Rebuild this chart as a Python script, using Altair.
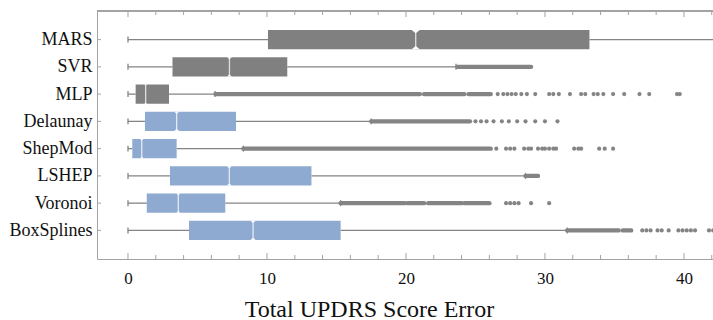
import altair as alt
import pandas as pd

# ---- data -------------------------------------------------------------
models = ["MARS", "SVR", "MLP", "Delaunay", "ShepMod", "LSHEP", "Voronoi", "BoxSplines"]
family = ["regression", "regression", "regression",
          "interpolant", "interpolant", "interpolant", "interpolant", "interpolant"]

whisker_low = [0.0, 0.0, 0.0, 0.0, 0.0, 0.0, 0.0, 0.0]
q1 = [10.07, 3.2, 0.55, 1.22, 0.31, 3.02, 1.35, 4.39]
median = [20.7, 7.3, 1.27, 3.5, 0.99, 7.29, 3.62, 9.0]
q3 = [33.2, 11.46, 2.95, 7.77, 3.5, 13.2, 7.0, 15.3]
whisker_high = [46.0, 23.6, 6.26, 17.5, 8.3, 28.6, 15.3, 31.6]
notch_half = [0.29, 0.18, 0.11, 0.18, 0.12, 0.18, 0.14, 0.19]

# outliers: dense stretches (start, end) and isolated points
outlier_runs = {
    "SVR": [(23.7, 29.0)],
    "MLP": [(6.3, 21.0), (21.3, 24.2), (24.5, 26.1)],
    "Delaunay": [(17.5, 24.6)],
    "ShepMod": [(8.3, 26.1)],
    "LSHEP": [(28.6, 29.5)],
    "Voronoi": [(15.3, 19.9), (20.1, 21.3), (21.6, 23.0), (23.1, 24.0), (24.2, 26.0)],
    "BoxSplines": [(31.6, 35.3), (35.6, 36.2)],
}
outlier_points = {
    "MLP": [26.6, 27.0, 27.3, 27.6, 27.9, 28.3, 28.7, 29.3, 30.3, 30.6, 31.0, 31.8,
            32.6, 32.9, 33.5, 33.8, 34.2, 34.9, 35.7, 36.8, 37.5, 39.5, 39.7],
    "Delaunay": [25.0, 25.4, 25.8, 26.3, 26.9, 27.4, 28.0, 28.6, 29.3, 30.0, 30.9],
    "ShepMod": [26.5, 27.2, 27.5, 27.8, 28.5, 28.8, 29.0, 29.5, 29.8, 30.0, 30.3,
                30.6, 30.8, 32.1, 32.4, 32.6, 33.9, 34.3, 34.9],
    "Voronoi": [27.2, 27.5, 27.8, 28.1, 29.0, 30.3],
    "BoxSplines": [37.0, 37.3, 37.6, 38.1, 38.4, 38.9, 39.6, 39.9, 40.2, 40.5,
                   40.8, 41.8, 42.1],
}

major_ticks = [0, 10, 20, 30, 40]
minor_ticks = [2, 4, 6, 8, 12, 14, 16, 18, 22, 24, 26, 28, 32, 34, 36, 38, 42]

# ---- style ------------------------------------------------------------
W, H = 616, 248
PAD_LEFT, PAD_TOP = 97, 11
X_DOMAIN = [-2.23, 42.09]
PX_PER_UNIT = W / (X_DOMAIN[1] - X_DOMAIN[0])
FONT = "Liberation Serif, DejaVu Serif, serif"
FRAME = "#a3a3a3"
LINE = "#848484"
GRAY = "#808080"
BLUE = "#8eaad0"
BOX_HALF = 0.35
CAP_HALF = 0.11

xs = alt.Scale(domain=X_DOMAIN, nice=False, zero=False)
ys = alt.Scale(domain=[-1.05, 8.05], nice=False, zero=False, reverse=True)

x_axis = alt.Axis(
    title="Total UPDRS Score Error", values=major_ticks, format="d",
    ticks=False, grid=False, domain=True, domainColor=FRAME, domainWidth=1,
    labelFont=FONT, labelFontSize=17, labelColor="#111", labelPadding=11,
    titleFont=FONT, titleFontSize=24, titleFontWeight="normal", titleColor="#111",
    titleBaseline="alphabetic", titleAlign="center", titleX=272, titleY=57,
)
name_expr = "[" + ",".join(f"'{m}'" for m in models) + "][datum.value]"
y_axis = alt.Axis(
    title=None, values=list(range(len(models))), labelExpr=name_expr,
    ticks=False, grid=False, domain=True, domainColor=FRAME, domainWidth=1,
    labelFont=FONT, labelFontSize=18, labelColor="#111", labelPadding=5,
)


def X(field):
    return alt.X(field, type="quantitative", scale=xs, axis=x_axis)


def Y(field):
    return alt.Y(field, type="quantitative", scale=ys, axis=y_axis)


# ---- tables built from the arrays ------------------------------------
box_rows, whisk_rows, cap_rows, notch_rows = [], [], [], []
for i, m in enumerate(models):
    box_rows.append(dict(model=m, family=family[i], x=q1[i], x2=q3[i],
                         y=i - BOX_HALF, y2=i + BOX_HALF, med=median[i]))
    whisk_rows.append(dict(model=m, y=i, x=whisker_low[i], x2=q1[i]))
    whisk_rows.append(dict(model=m, y=i, x=q3[i], x2=whisker_high[i]))
    for xv in (whisker_low[i], whisker_high[i]):
        cap_rows.append(dict(model=m, x=xv, y=i - CAP_HALF, y2=i + CAP_HALF))
    width_px = 2 * notch_half[i] * PX_PER_UNIT
    notch_rows.append(dict(model=m, x=median[i], y=i - BOX_HALF, edge="top",
                           s=width_px ** 2))
    notch_rows.append(dict(model=m, x=median[i], y=i + BOX_HALF, edge="bottom",
                           s=width_px ** 2))

run_rows, pt_rows = [], []
for i, m in enumerate(models):
    for a, b in outlier_runs.get(m, []):
        run_rows.append(dict(model=m, y=i, x=a, x2=b))
    for v in outlier_points.get(m, []):
        pt_rows.append(dict(model=m, y=i, x=v))

box_df = pd.DataFrame(box_rows)
whisk_df = pd.DataFrame(whisk_rows)
cap_df = pd.DataFrame(cap_rows)
notch_df = pd.DataFrame(notch_rows)
run_df = pd.DataFrame(run_rows)
pt_df = pd.DataFrame(pt_rows)
major_df = pd.DataFrame({"x": major_ticks})
minor_df = pd.DataFrame({"x": minor_ticks})
row_df = pd.DataFrame({"y": list(range(len(models)))})

# ---- layers -----------------------------------------------------------
whiskers = alt.Chart(whisk_df).mark_rule(color=LINE, strokeWidth=1.3, clip=True).encode(
    x=X("x"), x2="x2", y=Y("y"))
caps = alt.Chart(cap_df).mark_rule(color=LINE, strokeWidth=1.3, clip=True).encode(
    x=X("x"), y=Y("y"), y2="y2")
runs = alt.Chart(run_df).mark_rule(color=LINE, strokeWidth=4.4, strokeCap="round",
                                   clip=True).encode(x=X("x"), x2="x2", y=Y("y"))
points = alt.Chart(pt_df).mark_circle(color=LINE, size=17, opacity=1, clip=True).encode(
    x=X("x"), y=Y("y"))

boxes = alt.Chart(box_df).mark_rect(clip=True, opacity=1).encode(
    x=X("x"), x2="x2", y=Y("y"), y2="y2",
    color=alt.Color("family:N", legend=None,
                    scale=alt.Scale(domain=["regression", "interpolant"],
                                    range=[GRAY, BLUE])))
medians = alt.Chart(box_df).mark_rule(color="white", strokeWidth=1.3, opacity=0.75).encode(
    x=X("med"), y=Y("y"), y2="y2")


def notch_layer(edge, path):
    return alt.Chart(notch_df).transform_filter(alt.datum.edge == edge).mark_point(
        shape=path, filled=True, color="white", opacity=1, strokeWidth=0,
    ).encode(x=X("x"), y=Y("y"), size=alt.Size("s:Q", scale=None, legend=None))


notches_top = notch_layer("top", "M-1,0L1,0L0,0.8Z")
notches_bottom = notch_layer("bottom", "M-1,0L1,0L0,-0.8Z")


def frame_ticks(df, y_from, y_to):
    return alt.Chart(df).mark_rule(color=FRAME, strokeWidth=1).encode(
        x=X("x"), y=alt.value(y_from), y2=alt.value(y_to))


top_line = alt.Chart(row_df).mark_rule(color=FRAME, strokeWidth=1).encode(
    x=alt.value(0), x2=alt.value(W), y=alt.value(0))
left_ticks = alt.Chart(row_df).mark_rule(color=FRAME, strokeWidth=1).encode(
    y=Y("y"), x=alt.value(0), x2=alt.value(4))

chart = alt.layer(
    whiskers, caps, runs, points,
    boxes, medians, notches_top, notches_bottom,
    top_line,
    frame_ticks(major_df, H, H - 6), frame_ticks(minor_df, H, H - 4),
    frame_ticks(major_df, 0, 6), frame_ticks(minor_df, 0, 4),
    left_ticks,
).properties(
    width=W, height=H,
    autosize=alt.AutoSizeParams(type="none"),
    padding={"left": PAD_LEFT, "top": PAD_TOP, "right": 713 - PAD_LEFT - W,
             "bottom": 320 - PAD_TOP - H},
    background="white",
).configure_view(stroke=None)

chart.save("out.html", embed_options={"renderer": "svg", "actions": False})
